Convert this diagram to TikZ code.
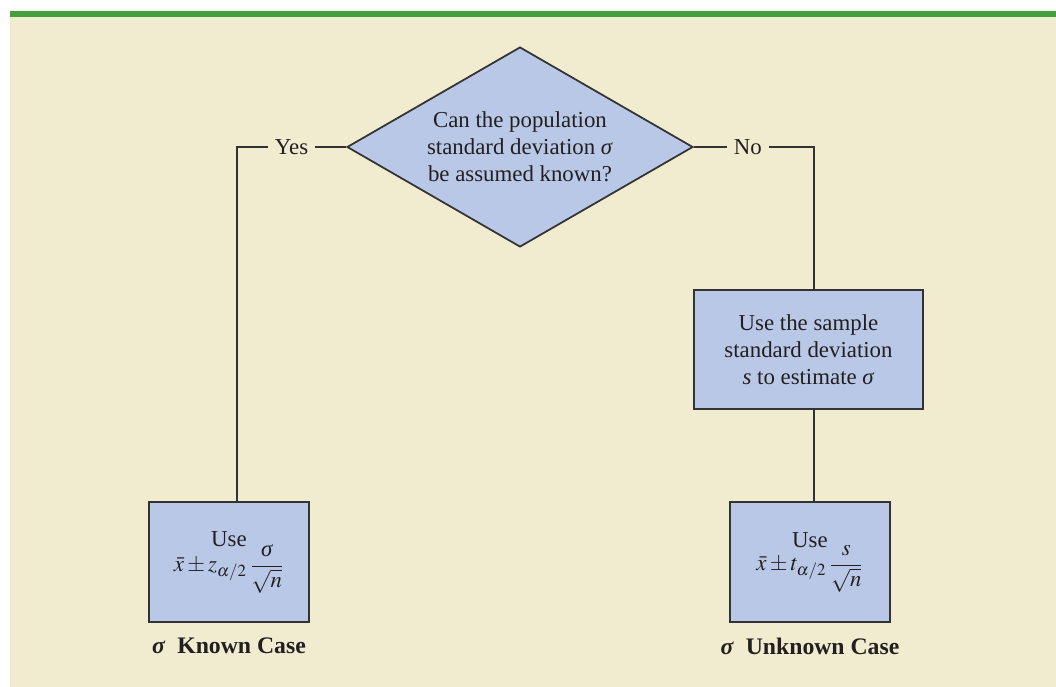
\documentclass[tikz,border=0pt]{standalone}
\usepackage{mathptmx}
\usepackage{fontspec}
\setmainfont{Liberation Serif}
\usetikzlibrary{shapes.geometric, positioning, calc}
\definecolor{colPanel}{RGB}{241,235,208}
\definecolor{colBar}{RGB}{67,160,61}
\definecolor{colBox}{RGB}{185,200,230}
\definecolor{colLine}{RGB}{51,51,51}
\definecolor{colText}{RGB}{35,31,32}
\tikzset{
  % shared base
  base/.style={
    draw=colLine, fill=colBox, text=colText,
    font=\fontsize{13}{15.5}\selectfont, align=center,
    inner sep=0pt,
  },
  % shapes
  sAsk/.style  ={base, diamond, aspect=1.73, line width=1pt,
                 minimum width=6.92cm, minimum height=4cm},
  sBox/.style  ={base, rectangle, line width=1.3pt,
                 minimum width=3.2cm, minimum height=2.4cm},
  sWide/.style ={sBox, minimum width=4.58cm, minimum height=2.38cm},
  % connectors and labels
  link/.style    ={draw=colLine, line width=1pt},
  answer/.style  ={fill=colPanel, text=colText, inner xsep=4pt,
                   font=\fontsize{13}{15.5}\selectfont},
  caseLbl/.style ={text=colText, font=\fontsize{13.5}{16}\selectfont\bfseries},
}

\begin{document}
\begin{tikzpicture}[x=0.02cm, y=-0.02cm]

% ═══════════════════════════════════════════════════════════════════════════
%  PANEL
% ═══════════════════════════════════════════════════════════════════════════
\useasboundingbox (0,0) rectangle (1056,687);
\fill[colPanel] (10,17) rectangle (1056,687);
\fill[colBar]   (10,11) rectangle (1056,17);

% ═══════════════════════════════════════════════════════════════════════════
%  QUESTION
% ═══════════════════════════════════════════════════════════════════════════
\node[sAsk] (ask) at (520,147) {%
  Can the population\\
  standard deviation \textit{σ}\\
  be assumed known?%
};

% ═══════════════════════════════════════════════════════════════════════════
%  SAMPLE ESTIMATE
% ═══════════════════════════════════════════════════════════════════════════
\node[sWide] (useS) at (808.5,349.5) {%
  Use the sample\\
  standard deviation\\
  \textit{s} to estimate \textit{σ}%
};

% ═══════════════════════════════════════════════════════════════════════════
%  INTERVALS
% ═══════════════════════════════════════════════════════════════════════════
\node[sBox] (knownBox) at (229,562) {%
  Use\\[-2pt]
  $\displaystyle \bar{x} \pm z_{\alpha/2}\,\frac{\mbox{\itshape σ}}{\sqrt{n}}$%
};
\node[sBox] (unknownBox) at (810,562) {%
  Use\\[-2pt]
  $\displaystyle \bar{x} \pm t_{\alpha/2}\,\frac{s}{\sqrt{n}}$%
};

\node[caseLbl, below=5pt of knownBox]   (knownLbl)   {\textit{σ}\enspace Known Case};
\node[caseLbl, below=5pt of unknownBox] (unknownLbl) {\textit{σ}\enspace Unknown Case};

% ═══════════════════════════════════════════════════════════════════════════
%  CONNECTORS
% ═══════════════════════════════════════════════════════════════════════════
\coordinate (yesTurn) at (237,147);
\coordinate (noTurn)  at (814,147);

\draw[link] (ask.west) -- node[answer] {Yes} (yesTurn)
            -- (yesTurn |- knownBox.north);
\draw[link] (ask.east) -- node[answer, pos=0.45] {No} (noTurn)
            -- (noTurn |- useS.north);
\draw[link] (useS.south -| noTurn) -- (noTurn |- unknownBox.north);

\end{tikzpicture}
\end{document}
